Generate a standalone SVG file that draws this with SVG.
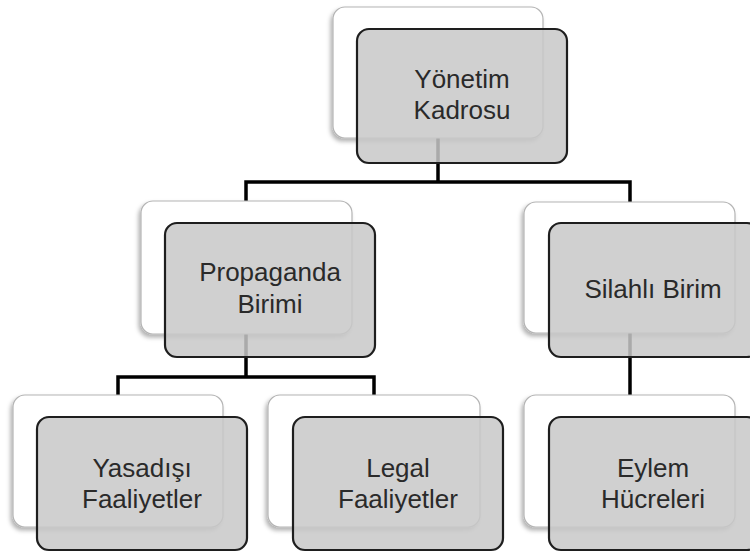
<svg xmlns="http://www.w3.org/2000/svg" width="750" height="554" viewBox="0 0 750 554">
  <defs>
    <filter id="sh" x="-10%" y="-10%" width="125%" height="130%">
      <feDropShadow dx="-2" dy="3" stdDeviation="2" flood-color="#000" flood-opacity="0.3"/>
    </filter>
    <style>
      .back { fill: #ffffff; stroke: #b4b4b4; stroke-width: 1.2; filter: url(#sh); }
      .front { fill: #c8c8c8; fill-opacity: 0.85; stroke: #1e1e1e; stroke-width: 2.2; }
      .lbl { font-family: "Liberation Sans", Arial, sans-serif; font-size: 26px; fill: #2a2a2a; text-anchor: middle; }
      .conn { fill: none; stroke: #000; stroke-width: 3.5; stroke-linejoin: miter; }
    </style>
  </defs>
  <rect width="750" height="554" fill="#ffffff"/>

  <g id="connectors" class="conn">
    <path d="M438 138 V182"/>
    <path d="M246 201 V182 H630 V202"/>
    <path d="M246 334 V377"/>
    <path d="M118 395 V377 H374 V395"/>
    <path d="M630 333 V395"/>
  </g>

  <g id="yonetim">
    <rect class="back" x="333" y="7" width="210" height="131" rx="12"/>
    <rect class="front" x="357" y="29" width="210" height="134" rx="12"/>
    <text class="lbl" x="462" y="88">Yönetim</text>
    <text class="lbl" x="462" y="119">Kadrosu</text>
  </g>

  <g id="propaganda">
    <rect class="back" x="141" y="201" width="211" height="133" rx="12"/>
    <rect class="front" x="165" y="223" width="210" height="134" rx="12"/>
    <text class="lbl" x="270" y="281">Propaganda</text>
    <text class="lbl" x="270" y="313">Birimi</text>
  </g>

  <g id="silahli">
    <rect class="back" x="524" y="202" width="211" height="131" rx="12"/>
    <rect class="front" x="549" y="223" width="210" height="134" rx="12"/>
    <text class="lbl" x="653" y="298">Silahlı Birim</text>
  </g>

  <g id="yasadisi">
    <rect class="back" x="13" y="395" width="210" height="132" rx="12"/>
    <rect class="front" x="37" y="417" width="210" height="133" rx="12"/>
    <text class="lbl" x="142" y="477">Yasadışı</text>
    <text class="lbl" x="142" y="508">Faaliyetler</text>
  </g>

  <g id="legal">
    <rect class="back" x="268" y="395" width="212" height="132" rx="12"/>
    <rect class="front" x="293" y="417" width="210" height="133" rx="12"/>
    <text class="lbl" x="398" y="477">Legal</text>
    <text class="lbl" x="398" y="508">Faaliyetler</text>
  </g>

  <g id="eylem">
    <rect class="back" x="524" y="395" width="211" height="132" rx="12"/>
    <rect class="front" x="549" y="417" width="210" height="133" rx="12"/>
    <text class="lbl" x="653" y="477">Eylem</text>
    <text class="lbl" x="653" y="508">Hücreleri</text>
  </g>
</svg>
